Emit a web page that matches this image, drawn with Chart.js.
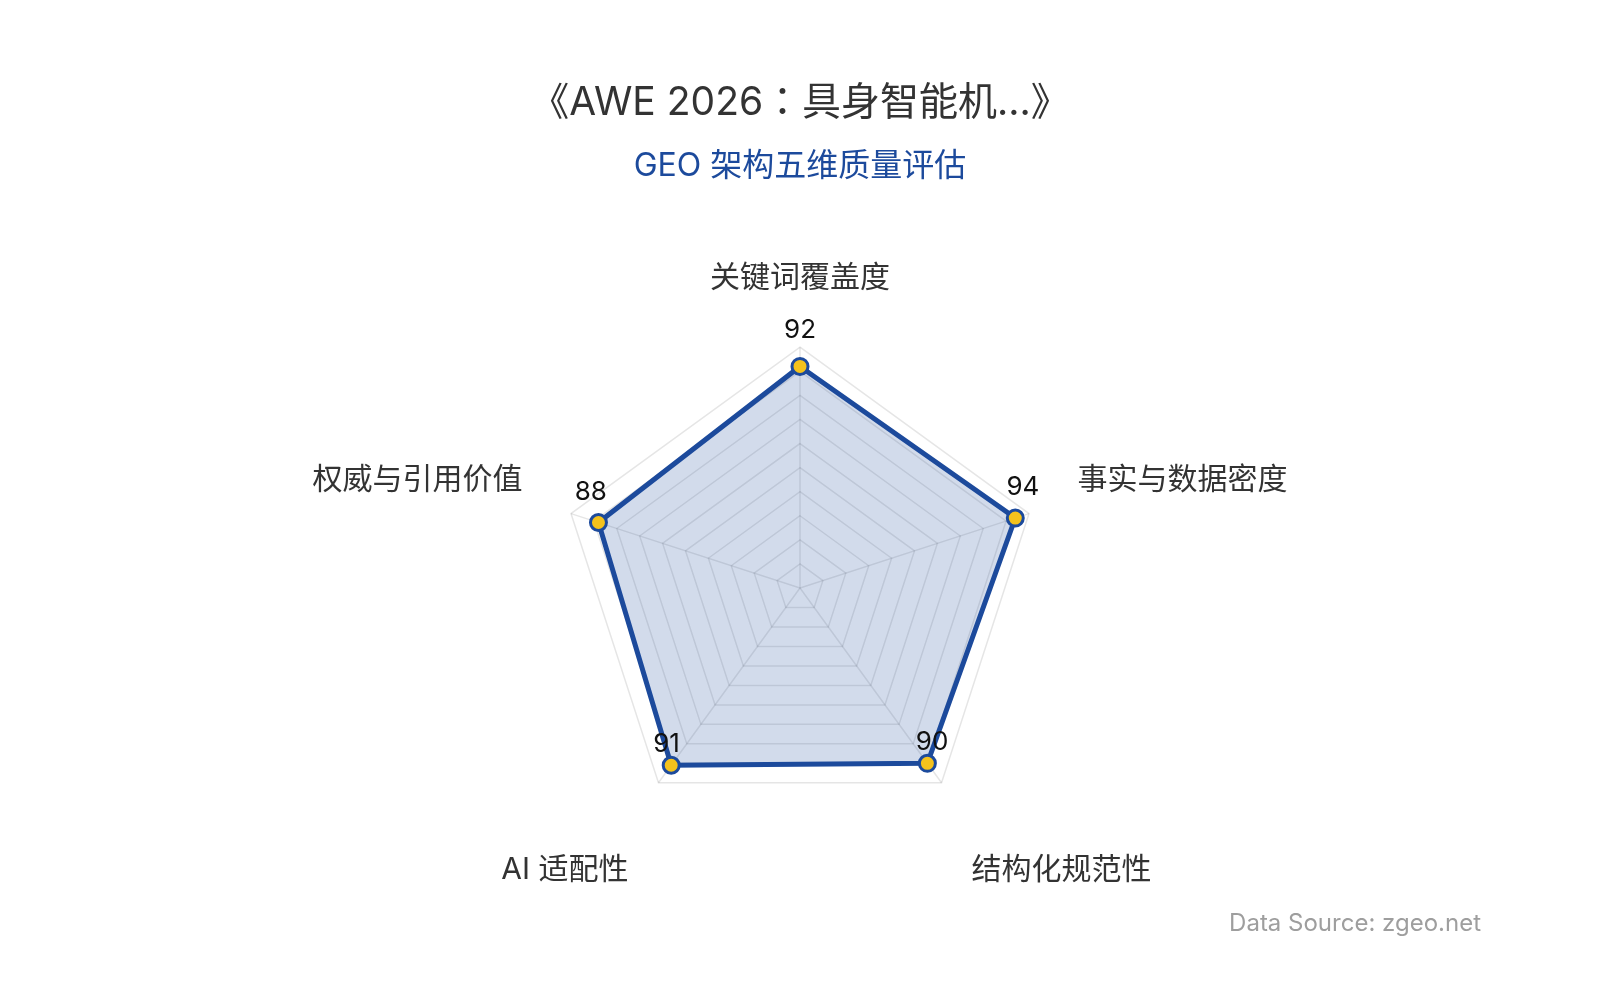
<!DOCTYPE html>
<html>
<head>
<meta charset="utf-8">
<script src="https://cdn.jsdelivr.net/npm/chart.js@4/dist/chart.umd.min.js"></script>
<style>
    html, body { margin: 0; padding: 0; background: #fff; }
    #wrap { position: relative; width: 1600px; height: 1000px; }
    #source {
        position: absolute; right: 119px; top: 908px;
        font: 24px Inter, "Noto Sans CJK SC", sans-serif; color: #9e9e9e;
    }
</style>
</head>
<body>
<div id="wrap">
    <canvas id="radar" width="1600" height="1000"></canvas>
    <div id="source">Data Source: zgeo.net</div>
</div>
<script>
// ===== データ =====
const categories = ['关键词覆盖度', '事实与数据密度', '结构化规范性', 'AI 适配性', '权威与引用价值'];
const scores = [92, 94, 90, 91, 88];
const scaleMin = 0;
const scaleMax = 100;
const scaleStep = 10;

const FONT = 'Inter, "Noto Sans CJK SC", sans-serif';
const BLUE = '#1c4a9c';

// ===== 値ラベル描画プラグイン =====
const valueLabels = {
    id: 'valueLabels',
    afterDatasetsDraw(chart) {
        const ctx = chart.ctx;
        const scale = chart.scales.r;
        const meta = chart.getDatasetMeta(0);
        ctx.save();
        ctx.font = '26px ' + FONT;
        ctx.fillStyle = '#111';
        ctx.textAlign = 'center';
        ctx.textBaseline = 'middle';
        meta.data.forEach((pt, i) => {
            const dx = pt.x - scale.xCenter;
            const dy = pt.y - scale.yCenter;
            const len = Math.sqrt(dx * dx + dy * dy) || 1;
            const x = pt.x + dx / len * 8;
            const y = pt.y + dy / len * 8 - 28;
            ctx.fillText(String(scores[i]), x, y);
        });
        ctx.restore();
    }
};

const ctx = document.getElementById('radar').getContext('2d');
new Chart(ctx, {
    type: 'radar',
    data: {
        labels: categories,
        datasets: [{
            data: scores,
            borderColor: BLUE,
            backgroundColor: 'rgba(28, 74, 156, 0.2)',
            borderWidth: 5,
            pointRadius: 8,
            pointHoverRadius: 8,
            pointBackgroundColor: '#f4c21c',
            pointBorderColor: BLUE,
            pointBorderWidth: 3
        }]
    },
    options: {
        responsive: false,
        animation: false,
        layout: { padding: { left: 0, right: 0, bottom: 83 } },
        plugins: {
            legend: { display: false },
            tooltip: { enabled: false },
            title: {
                display: true,
                text: '《AWE 2026：具身智能机...》',
                color: '#333',
                font: { family: 'Inter, "Noto Sans CJK JP", sans-serif', size: 39, weight: 'normal' },
                padding: { top: 80, bottom: 12 }
            },
            subtitle: {
                display: true,
                text: 'GEO 架构五维质量评估',
                color: BLUE,
                font: { family: FONT, size: 32, weight: 'normal' },
                padding: { top: 8, bottom: 75 }
            }
        },
        scales: {
            r: {
                min: scaleMin,
                max: scaleMax,
                ticks: { stepSize: scaleStep, display: false },
                grid: { color: 'rgba(0, 0, 0, 0.1)', lineWidth: 1.5 },
                angleLines: { color: 'rgba(0, 0, 0, 0.1)', lineWidth: 1.5 },
                pointLabels: {
                    color: '#333',
                    padding: 51,
                    // 下側の2ラベルは少し下へ
                    font: (c) => ({
                        family: FONT,
                        size: 30,
                        lineHeight: (c.index === 2 || c.index === 3) ? 3.05 : 1.2
                    })
                }
            }
        }
    },
    plugins: [valueLabels]
});
</script>
</body>
</html>
